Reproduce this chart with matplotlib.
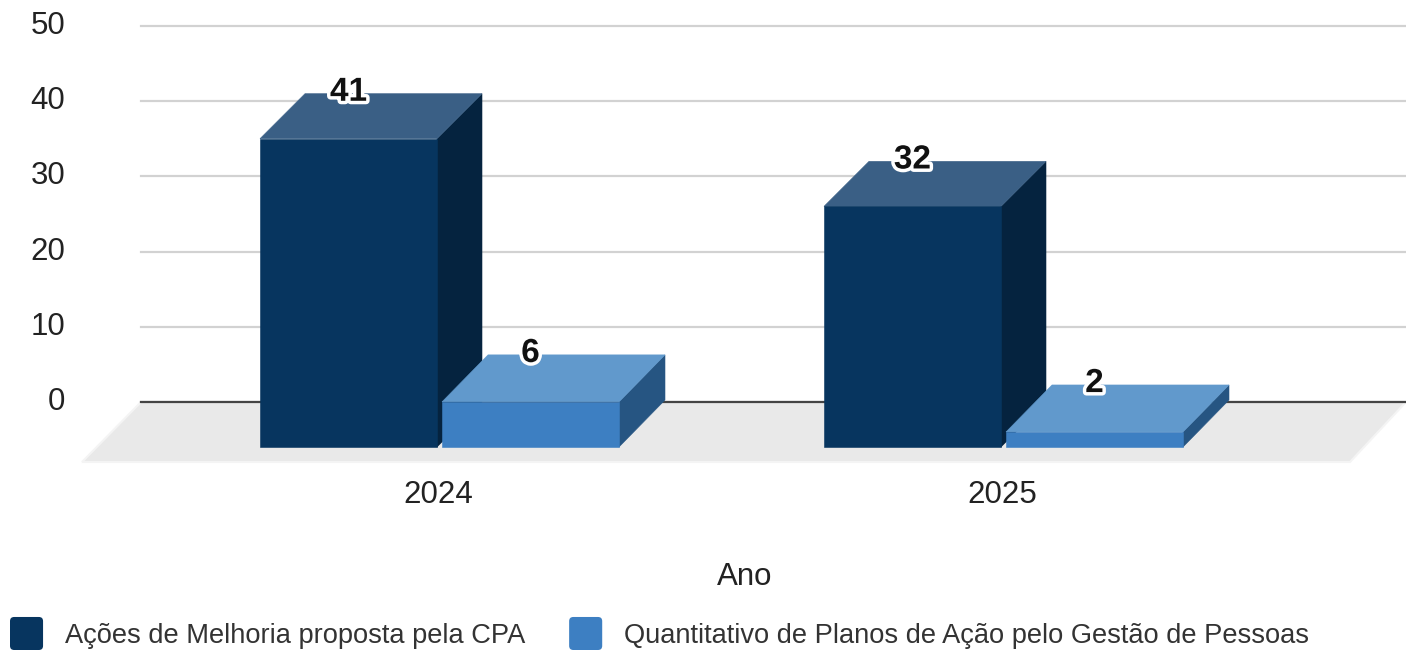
import matplotlib
matplotlib.use("Agg")
import matplotlib.pyplot as plt
import matplotlib.patheffects as pe
from matplotlib.legend_handler import HandlerPatch
from matplotlib.patches import Polygon, FancyBboxPatch
from matplotlib.transforms import ScaledTranslation

years = ["2024", "2025"]
series_names = ["Ações de Melhoria proposta pela CPA",
                "Quantitativo de Planos de Ação pelo Gestão de Pessoas"]
acoes = [41, 32]
planos = [6, 2]
y_ticks = [0, 10, 20, 30, 40, 50]
x_title = "Ano"

W, H = 1406, 651
plt.rcParams["font.family"] = ["Liberation Sans", "DejaVu Sans"]
fig = plt.figure(figsize=(W / 100, H / 100), dpi=100)
L, R, T, B = 141, 1406, 26, 402
ax = fig.add_axes([L / W, 1 - B / H, (R - L) / W, (B - T) / H])

PX_CAT = 564.0
PX_UNIT = (B - T) / 50.0
ax.set_xlim((L - 438) / PX_CAT, (R - 438) / PX_CAT)
ax.set_ylim(0, 50)

bar_w = 177 / PX_CAT

# floor
floor_dx = 59 / PX_CAT
floor_dy = 60 / PX_UNIT
x0, x1 = ax.get_xlim()
ax.add_patch(Polygon([(x0, 0), (x1, 0), (x1 - 56 / PX_CAT, -floor_dy), (x0 - floor_dx, -floor_dy)],
                     closed=True, fc="#e9e9e9", ec="#f4f4f4", lw=1.5, clip_on=False, zorder=1))


def bar3d(center, value, front, top, side, z, dx_px, dy_px):
    depth_x = dx_px / PX_CAT
    depth_y = dy_px / PX_UNIT
    left = center - bar_w / 2
    right = center + bar_w / 2
    base = -45 / PX_UNIT
    h = base + value
    back = h + depth_y
    ax.bar(center, value, bottom=base, width=bar_w, color=front, edgecolor=front, linewidth=0.4,
           clip_on=False, zorder=z + 0.2)
    ax.add_patch(Polygon([(left, h), (right, h), (right + depth_x, back), (left + depth_x, back)],
                         closed=True, fc=top, ec=top, lw=0.4, clip_on=False, zorder=z + 0.1))
    ax.add_patch(Polygon([(right, base), (right + depth_x, base + depth_y), (right + depth_x, back), (right, h)],
                         closed=True, fc=side, ec=side, lw=0.4, clip_on=False, zorder=z))
    return back


DARK = ("#07355f", "#3a5f85", "#05233f")
LIGHT = ("#3d7fc2", "#6199cc", "#265582")
off_a, off_b = -89.5 / PX_CAT, 92.5 / PX_CAT
tops = []
for i in range(len(years)):
    tops.append((i + off_a, acoes[i], bar3d(i + off_a, acoes[i], *DARK, z=3, dx_px=45, dy_px=45)))
    tops.append((i + off_b, planos[i], bar3d(i + off_b, planos[i], *LIGHT, z=4, dx_px=46, dy_px=47)))

for xc, val, back in tops:
    ax.annotate(str(val), (xc, back), xytext=(0, 1), textcoords="offset points",
                ha="center", va="center", fontsize=24, fontweight="bold", color="#111111",
                annotation_clip=False, zorder=8,
                path_effects=[pe.withStroke(linewidth=5, foreground="white")])

ax.set_yticks(y_ticks)
ax.set_xticks(range(len(years)))
ax.set_xticklabels(years)
ax.grid(axis="y", color="#d2d2d2", linewidth=1.6, clip_on=False)
ax.grid(axis="x", visible=False)
ax.set_axisbelow(True)
ax.tick_params(axis="y", length=0, pad=54.5, labelsize=22.5, labelcolor="#222222")
ax.tick_params(axis="x", length=0, pad=56.2, labelsize=22.5, labelcolor="#222222")
shift = ScaledTranslation(0, 2.5 / 72, fig.dpi_scale_trans)
for lab in ax.get_yticklabels():
    lab.set_transform(lab.get_transform() + shift)
ax.set_xlabel(x_title, fontsize=22.5, color="#222222")
ax.xaxis.set_label_coords((745 - L) / (R - L), -(577 - B) / (B - T), transform=ax.transAxes)
ax.xaxis.label.set_va("center")
for s in ("top", "left", "right"):
    ax.spines[s].set_visible(False)
ax.spines["bottom"].set_color("#444444")
ax.spines["bottom"].set_linewidth(1.6)
ax.spines["bottom"].set_zorder(2)


def rounded(legend, orig_handle, xdescent, ydescent, width, height, fontsize):
    r = 3
    return FancyBboxPatch((-xdescent + r, -ydescent + r), width - 2 * r, height - 2 * r,
                          boxstyle=f"round,pad={r},rounding_size={r}")


handles = [plt.Rectangle((0, 0), 1, 1, fc=DARK[0]), plt.Rectangle((0, 0), 1, 1, fc=LIGHT[0])]
fig.legend(handles, series_names, loc="lower left", bbox_to_anchor=(10 / W, 1 / H),
           ncol=2, frameon=False, fontsize=19.67, labelcolor="#333333",
           handlelength=1.21, handleheight=1.483, handletextpad=0.8, columnspacing=1.61,
           borderpad=0, borderaxespad=0,
           handler_map={plt.Rectangle: HandlerPatch(patch_func=rounded)})

fig.savefig("out.png", dpi=100, facecolor="white")
